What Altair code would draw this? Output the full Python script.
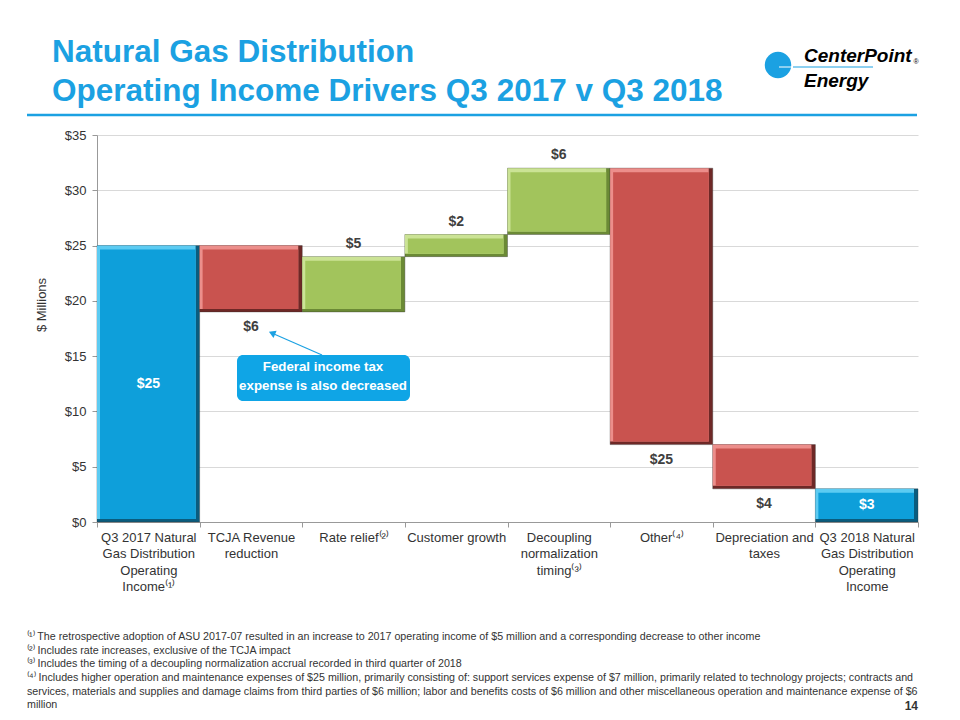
import altair as alt
import pandas as pd

# ---------------- data ----------------
categories = [
    "Q3 2017 Natural|Gas Distribution|Operating|Income⁽¹⁾",
    "TCJA Revenue|reduction",
    "Rate relief⁽²⁾",
    "Customer growth",
    "Decoupling|normalization|timing⁽³⁾",
    "Other⁽⁴⁾",
    "Depreciation and|taxes",
    "Q3 2018 Natural|Gas Distribution|Operating|Income",
]
values = [25, -6, 5, 2, 6, -25, -4, 3]
kinds = ["total", "decrease", "increase", "increase", "increase", "decrease", "decrease", "total"]

y_ticks = [0, 5, 10, 15, 20, 25, 30, 35]

title_lines = ["Natural Gas Distribution", "Operating Income Drivers Q3 2017 v Q3 2018"]
callout_lines = ["Federal income tax", "expense is also decreased"]
footnotes = [
    "⁽¹⁾ The retrospective adoption of ASU 2017-07 resulted in an increase to 2017 operating income of $5 million and a corresponding decrease to other income",
    "⁽²⁾ Includes rate increases, exclusive of the TCJA impact",
    "⁽³⁾ Includes the timing of a decoupling normalization accrual recorded in third quarter of 2018",
    "⁽⁴⁾ Includes higher operation and maintenance expenses of $25 million, primarily consisting of: support services expense of $7 million, primarily related to technology projects; contracts and",
    "services, materials and supplies and damage claims from third parties of $6 million; labor and benefits costs of $6 million and other miscellaneous operation and maintenance expense of $6",
    "million",
]
page_number = "14"

# ---------------- build waterfall table ----------------
rows = []
running = 0
for cat, v, k in zip(categories, values, kinds):
    if k == "total":
        lo, hi = 0, v
        running = v
    else:
        start = running
        running = running + v
        lo, hi = min(start, running), max(start, running)
    rows.append({"cat": cat, "lo": lo, "hi": hi, "mid": (lo + hi) / 2,
                 "kind": k, "label": "$" + str(abs(v))})
df = pd.DataFrame(rows)

W, H = 821, 387
BW = W / len(categories)
FONT = "Liberation Sans, Arial, sans-serif"
BLUE = "#1BA1E2"
KINDS = ["total", "decrease", "increase"]

x_enc = alt.X("cat:N", sort=categories, title=None,
              scale=alt.Scale(paddingInner=0, paddingOuter=0),
              axis=alt.Axis(labelAngle=0, labelExpr="split(datum.label, '|')",
                            labelLineHeight=16.5, labelFontSize=13, labelColor="#333333",
                            labelFont=FONT, labelPadding=4, tickSize=5, tickBand="extent",
                            tickColor="#999999", domainColor="#999999", labelLimit=200,
                            labelBaseline="top"))
x_plain = alt.X("cat:N", sort=categories)
y_scale = alt.Scale(domain=[0, 35], nice=False, zero=True)


def cscale(rng):
    return alt.Color("kind:N", scale=alt.Scale(domain=KINDS, range=rng), legend=None)


base = alt.Chart(df)

# dark outer shell (right / bottom bevel)
shell = base.mark_bar(stroke="#333333", strokeWidth=0.6, strokeOpacity=0.6).encode(
    x=x_enc,
    y=alt.Y("hi:Q", scale=y_scale, title=None,
            axis=alt.Axis(values=y_ticks, labelExpr="'$' + datum.value", labelFontSize=13,
                          labelColor="#333333", labelFont=FONT, tickSize=5, labelPadding=6,
                          gridColor="#D9D9D9", tickColor="#999999", domainColor="#999999")),
    y2="lo:Q",
    color=cscale(["#0A5C7E", "#6E2826", "#6B8A35"]),
)
# light bevel (top / left)
light = base.mark_bar(width=BW - 4, xOffset=-2, y2Offset=-3).encode(
    x=x_plain, y=alt.Y("hi:Q", scale=y_scale), y2="lo:Q",
    color=cscale(["#5CCBF2", "#EC8E8B", "#CBE395"]),
)
# face
face = base.mark_bar(width=BW - 7, xOffset=-0.5, yOffset=4, y2Offset=-3).encode(
    x=x_plain, y=alt.Y("hi:Q", scale=y_scale), y2="lo:Q",
    color=cscale(["#0E9FDA", "#C9534F", "#A2C45C"]),
)

lab_inside = base.transform_filter("datum.kind == 'total'").mark_text(
    fontWeight="bold", fontSize=14, color="white", font=FONT).encode(
    x=x_plain, y=alt.Y("mid:Q", scale=y_scale), text="label:N")
lab_below = base.transform_filter("datum.kind == 'decrease'").mark_text(
    fontWeight="bold", fontSize=14, color="#404040", font=FONT, dy=15).encode(
    x=x_plain, y=alt.Y("lo:Q", scale=y_scale), text="label:N")
lab_above = base.transform_filter("datum.kind == 'increase'").mark_text(
    fontWeight="bold", fontSize=14, color="#404040", font=FONT, dy=-13).encode(
    x=x_plain, y=alt.Y("hi:Q", scale=y_scale), text="label:N")

one = alt.Data(values=[{"a": 1}])
OX, OY = 97, 135  # page position of plot origin


def txt(s, px, py, **kw):
    return alt.Chart(one).mark_text(**kw).encode(
        x=alt.value(px - OX), y=alt.value(py - OY), text=alt.value(s))


ann = []
# title
for line, yy in zip(title_lines, [62, 101]):
    ann.append(txt(line, 52, yy, fontSize=31.5, fontWeight="bold", color=BLUE,
                   font=FONT, align="left", baseline="alphabetic"))
# blue rule under title
ann.append(alt.Chart(one).mark_rule(color=BLUE, strokeWidth=2.5).encode(
    x=alt.value(27 - OX), x2=alt.value(917 - OX), y=alt.value(115 - OY)))
# logo
ann.append(alt.Chart(one).mark_circle(color=BLUE, opacity=1, size=700).encode(
    x=alt.value(778 - OX), y=alt.value(65 - OY)))
ann.append(alt.Chart(one).mark_rule(color="white", strokeWidth=1).encode(
    x=alt.value(779 - OX), x2=alt.value(793 - OX), y=alt.value(67 - OY)))
ann.append(alt.Chart(one).mark_rule(color=BLUE, strokeWidth=1).encode(
    x=alt.value(793 - OX), x2=alt.value(873 - OX), y=alt.value(67 - OY)))
ann.append(txt("CenterPoint", 804, 62, fontSize=19, fontWeight="bold", fontStyle="italic",
               color="black", font=FONT, align="left", baseline="alphabetic"))
ann.append(txt("Energy", 804, 87, fontSize=19, fontWeight="bold", fontStyle="italic",
               color="black", font=FONT, align="left", baseline="alphabetic"))
ann.append(txt("®", 916, 62, fontSize=7, color="black", font=FONT, align="center",
               baseline="middle"))
# y-axis title
ann.append(txt("$ Millions", 42, 305, fontSize=13, color="#333333", font=FONT, angle=270,
               align="center", baseline="middle"))
# callout
ann.append(alt.Chart(one).mark_rect(color="#0FA5E6", cornerRadius=6).encode(
    x=alt.value(237 - OX), x2=alt.value(410 - OX), y=alt.value(355 - OY), y2=alt.value(401 - OY)))
ann.append(txt(callout_lines[0], 323, 367, fontSize=13.3, fontWeight="bold", color="white",
               font=FONT, align="center", baseline="middle"))
ann.append(txt(callout_lines[1], 323, 386, fontSize=13.3, fontWeight="bold", color="white",
               font=FONT, align="center", baseline="middle"))
ann.append(alt.Chart(one).mark_rule(color="#1BA1E2", strokeWidth=1.2).encode(
    x=alt.value(322 - OX), x2=alt.value(274 - OX), y=alt.value(355 - OY), y2=alt.value(334 - OY)))
ann.append(alt.Chart(one).mark_point(shape="triangle-up", filled=True, color="#1BA1E2",
                                     size=60, opacity=1, angle=294).encode(
    x=alt.value(272 - OX), y=alt.value(333 - OY)))
# footnotes
fy = [637, 651, 664, 678, 692, 705]
for line, yy in zip(footnotes, fy):
    ann.append(txt(line, 27, yy, fontSize=10.7, color="#333333", font=FONT, align="left",
                   baseline="middle"))
ann.append(txt(page_number, 918, 706, fontSize=12, fontWeight="bold", color="#333333",
               font=FONT, align="right", baseline="middle"))

chart = alt.layer(shell, light, face, lab_inside, lab_below, lab_above, *ann).resolve_scale(
    color="independent"
).properties(
    width=W, height=H,
    autosize=alt.AutoSizeParams(type="none"),
    padding={"left": OX - 8, "top": OY - 8, "right": 26, "bottom": 200},
).configure_view(stroke=None).configure_axisY(grid=True).configure_axisX(grid=False)

chart.save("out.html", embed_options={"renderer": "svg", "actions": False})
